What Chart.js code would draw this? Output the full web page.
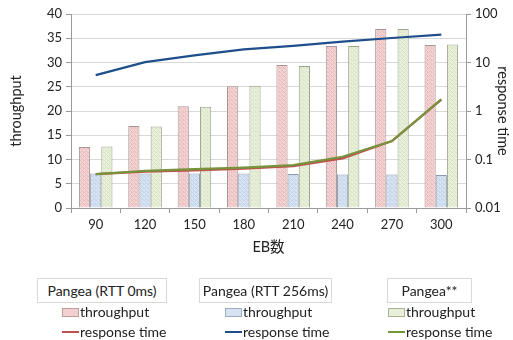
<!DOCTYPE html>
<html>
<head>
<meta charset="utf-8">
<script src="https://cdn.jsdelivr.net/npm/chart.js@4.4.0/dist/chart.umd.min.js"></script>
<style>
  body { margin: 0; background: #fff; font-family: Lato, "Noto Sans CJK JP", sans-serif; }
  #wrap { position: relative; width: 513px; height: 340px; }
  .box { position: absolute; top: 278px; height: 23px; border: 1px solid #d9d9d9; font-size: 14px; color: #222; text-align: center; line-height: 23px; background: #fff; white-space: nowrap; }
  .item { position: absolute; font-size: 14px; color: #222; line-height: 15px; white-space: nowrap; }
  .sw { display: inline-block; width: 15px; height: 7px; border: 1px solid #999; vertical-align: middle; margin-right: 1px; margin-top: -2px; }
  .ln { display: inline-block; width: 17px; height: 2px; vertical-align: middle; margin-right: 1px; margin-top: -2px; }
</style>
</head>
<body>
<div id="wrap">
  <canvas id="chart1" width="513" height="340"></canvas>

  <div class="box" style="left:37px; width:128px;">Pangea (RTT 0ms)</div>
  <div class="item" style="left:62px; top:304px;"><span class="sw" style="background:#f2d0d0;border-color:#c09c9c"></span>throughput</div>
  <div class="item" style="left:62px; top:324px;"><span class="ln" style="background:#c0504d"></span>response time</div>

  <div class="box" style="left:199px; width:131px;">Pangea (RTT 256ms)</div>
  <div class="item" style="left:225px; top:304px;"><span class="sw" style="background:#d6e2f1;border-color:#9aabc2"></span>throughput</div>
  <div class="item" style="left:225px; top:324px;"><span class="ln" style="background:#1f4e8c"></span>response time</div>

  <div class="box" style="left:387px; width:83px;">Pangea**</div>
  <div class="item" style="left:388px; top:304px;"><span class="sw" style="background:#e7efd9;border-color:#a9b394"></span>throughput</div>
  <div class="item" style="left:388px; top:324px;"><span class="ln" style="background:#77933c"></span>response time</div>
</div>

<script>
  // EB数
  var categorias = ['90', '120', '150', '180', '210', '240', '270', '300']

  // throughput (eixo esquerdo)
  var thr_rtt0 = [12.6, 16.9, 21.0, 25.1, 29.5, 33.4, 36.9, 33.6]
  var thr_rtt256 = [7.1, 7.1, 7.1, 7.1, 7.0, 6.9, 6.9, 6.8]
  var thr_pangea = [12.7, 16.8, 20.9, 25.2, 29.3, 33.4, 36.9, 33.7]

  // response time (eixo direito, log)
  var rt_rtt0 = [0.050, 0.056, 0.060, 0.065, 0.073, 0.105, 0.24, 1.72]
  var rt_rtt256 = [5.5, 10.2, 14.0, 18.7, 21.9, 26.8, 32.0, 37.5]
  var rt_pangea = [0.050, 0.058, 0.063, 0.068, 0.077, 0.114, 0.24, 1.74]

  var ticks_esq = [0, 5, 10, 15, 20, 25, 30, 35, 40]
  var ticks_dir = [0.01, 0.1, 1, 10, 100]

  function hachura(cor, linha) {
    var c = document.createElement('canvas')
    c.width = 4
    c.height = 4
    var g = c.getContext('2d')
    g.fillStyle = cor
    g.fillRect(0, 0, 4, 4)
    g.fillStyle = linha
    g.fillRect(0, 0, 1, 1)
    g.fillRect(1, 1, 1, 1)
    g.fillRect(2, 2, 1, 1)
    g.fillRect(3, 3, 1, 1)
    g.fillRect(3, 0, 1, 1)
    g.fillRect(1, 3, 1, 1)
    return g.createPattern(c, 'repeat')
  }

  var fonte = "Lato, 'Noto Sans CJK JP', sans-serif"
  Chart.defaults.font.family = fonte
  Chart.defaults.color = '#222'

  const data = {
    labels: categorias,
    datasets: [
      {
        type: 'line',
        label: 'Pangea** response time',
        data: rt_pangea,
        yAxisID: 'y2',
        borderColor: '#77933c',
        borderWidth: 2.25,
        pointRadius: 0,
        order: 1
      },
      {
        type: 'line',
        label: 'Pangea (RTT 0ms) response time',
        data: rt_rtt0,
        yAxisID: 'y2',
        borderColor: '#c0504d',
        borderWidth: 2.25,
        pointRadius: 0,
        order: 2
      },
      {
        type: 'line',
        label: 'Pangea (RTT 256ms) response time',
        data: rt_rtt256,
        yAxisID: 'y2',
        borderColor: '#1f4e8c',
        borderWidth: 2.25,
        pointRadius: 0,
        order: 3
      },
      {
        type: 'bar',
        label: 'Pangea (RTT 0ms) throughput',
        data: thr_rtt0,
        yAxisID: 'y',
        backgroundColor: hachura('#f3d3d3', '#e9bcbc'),
        borderColor: '#a89494',
        borderWidth: 1,
        order: 10
      },
      {
        type: 'bar',
        label: 'Pangea (RTT 256ms) throughput',
        data: thr_rtt256,
        yAxisID: 'y',
        backgroundColor: hachura('#d9e4f2', '#c3d3ea'),
        borderColor: '#8e9cb0',
        borderWidth: 1,
        order: 11
      },
      {
        type: 'bar',
        label: 'Pangea** throughput',
        data: thr_pangea,
        yAxisID: 'y',
        backgroundColor: hachura('#e9f0dc', '#d9e4c4'),
        borderColor: '#9ca38c',
        borderWidth: 1,
        order: 12
      }
    ]
  }

  const config = {
    type: 'bar',
    data,
    options: {
      responsive: false,
      animation: false,
      categoryPercentage: 0.68,
      barPercentage: 1.0,
      layout: { padding: { top: 14, bottom: 78, left: 0, right: 0 } },
      plugins: { legend: { display: false }, tooltip: { enabled: false } },
      scales: {
        x: {
          offset: true,
          grid: { offset: true, drawOnChartArea: false, drawTicks: true, tickLength: 5, color: '#9a9a9a' },
          border: { color: '#9a9a9a' },
          ticks: { font: { size: 13 }, padding: 4, maxRotation: 0 },
          title: { display: true, text: 'EB数', font: { size: 14.5 }, padding: { top: 4, bottom: 6 } },
          afterFit: function (s) { s.height = 54 }
        },
        y: {
          position: 'left',
          min: 0,
          max: 40,
          afterBuildTicks: function (s) { s.ticks = ticks_esq.map(function (v) { return { value: v } }) },
          grid: { color: '#d9d9d9', tickLength: 5, tickColor: '#9a9a9a' },
          border: { color: '#9a9a9a' },
          ticks: { font: { size: 13 }, padding: 4 },
          title: { display: true, text: 'throughput', font: { size: 14.5 }, padding: { top: 8, bottom: 4 } },
          afterFit: function (s) { s.width = 71 }
        },
        y2: {
          type: 'logarithmic',
          position: 'right',
          min: 0.01,
          max: 100,
          afterBuildTicks: function (s) { s.ticks = ticks_dir.map(function (v) { return { value: v } }) },
          grid: { drawOnChartArea: false, tickLength: 5, color: '#9a9a9a' },
          border: { color: '#9a9a9a' },
          ticks: {
            font: { size: 13 },
            padding: 4,
            callback: function (v) { return String(v) }
          },
          title: { display: true, text: 'response time', font: { size: 14.5 }, padding: { top: 2, bottom: 2 } },
          afterFit: function (s) { s.width = 47 }
        }
      }
    }
  }

  const myChart = new Chart(document.getElementById('chart1'), config)
</script>
</body>
</html>
